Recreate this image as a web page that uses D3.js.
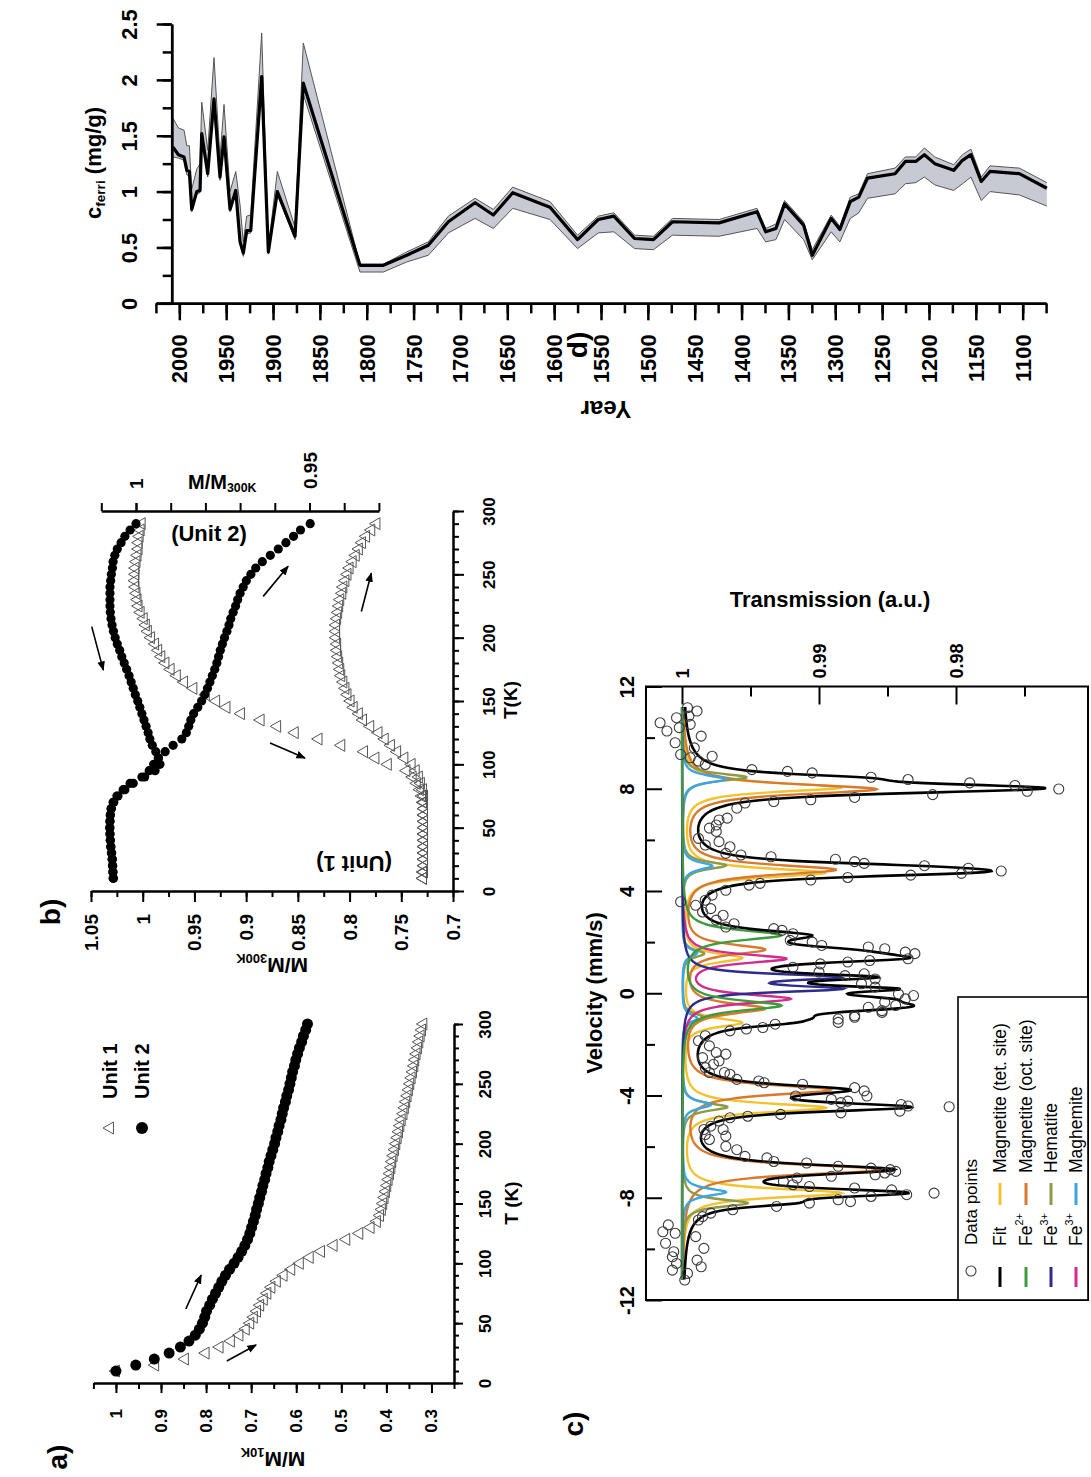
<!DOCTYPE html>
<html>
<head>
<meta charset="utf-8">
<script src="https://cdn.jsdelivr.net/npm/d3@7"></script>
<style>
  body { margin: 0; background: #fff; }
  svg { display: block; }
  text { font-family: "Liberation Sans", Arial, Helvetica, sans-serif; }
</style>
</head>
<body>
<svg id="fig" width="1091" height="1477"></svg>
<script>
// ---------------- Panel a: M/M10K during warming ----------------
const tempA = [10,15,20,25,30,35,40,45,50,55,60,65,70,75,80,85,90,95,100,105,110,115,120,125,130,135,140,145,150,155,160,165,170,175,180,185,190,195,200,205,210,215,220,225,230,235,240,245,250,255,260,265,270,275,280,285,290,295,300];
const unit1A = [1.000,0.913,0.847,0.801,0.770,0.745,0.726,0.712,0.702,0.694,0.687,0.680,0.672,0.664,0.655,0.643,0.628,0.611,0.592,0.570,0.545,0.517,0.489,0.460,0.435,0.421,0.414,0.410,0.407,0.404,0.401,0.398,0.395,0.392,0.389,0.387,0.384,0.381,0.378,0.375,0.372,0.369,0.366,0.362,0.359,0.356,0.353,0.350,0.347,0.344,0.341,0.338,0.336,0.333,0.330,0.327,0.324,0.321,0.318];
const unit2A = [1.000,0.956,0.915,0.882,0.857,0.838,0.824,0.815,0.808,0.803,0.799,0.792,0.786,0.779,0.772,0.765,0.757,0.748,0.738,0.729,0.721,0.714,0.708,0.703,0.699,0.695,0.691,0.688,0.684,0.681,0.677,0.674,0.670,0.667,0.663,0.660,0.656,0.652,0.648,0.645,0.641,0.638,0.634,0.631,0.628,0.624,0.621,0.617,0.614,0.611,0.608,0.604,0.601,0.597,0.593,0.588,0.584,0.579,0.575];
const mTicksA = [1.05,1,0.95,0.9,0.85,0.8,0.75,0.7,0.65,0.6,0.55,0.5,0.45,0.4,0.35,0.3,0.25];
const mMajorA = [1,0.9,0.8,0.7,0.6,0.5,0.4,0.3];
const mLabelsA = ["1","0.9","0.8","0.7","0.6","0.5","0.4","0.3"];
const tTicks = [0,10,20,30,40,50,60,70,80,90,100,110,120,130,140,150,160,170,180,190,200,210,220,230,240,250,260,270,280,290,300];
const tMajor = [0,50,100,150,200,250,300];
const tLabels = ["0","50","100","150","200","250","300"];
// arrows as [M, T] start and end
const arrowsA = [[[0.754,18.4],[0.689,31.8]], [[0.845,61.8],[0.811,90.2]]];

// ---------------- Panel b: M/M300K cooling / warming ----------------
const tempB = [10,15,20,25,30,35,40,45,50,55,60,65,70,75,80,85,90,95,100,105,110,115,120,125,130,135,140,145,150,155,160,165,170,175,180,185,190,195,200,205,210,215,220,225,230,235,240,245,250,255,260,265,270,275,280,285,290];
const unit1Cool = [0.729,0.729,0.728,0.728,0.728,0.728,0.728,0.728,0.728,0.728,0.728,0.728,0.729,0.730,0.732,0.735,0.739,0.745,0.763,0.775,0.786,0.808,0.830,0.853,0.870,0.886,0.905,0.919,0.929,0.939,0.951,0.960,0.967,0.973,0.978,0.982,0.985,0.988,0.992,0.995,0.997,0.999,1.002,1.004,1.005,1.006,1.007,1.0075,1.007,1.007,1.006,1.005,1.004,1.004,1.003,1.002,1.001];
const unit1Warm = [0.729,0.728,0.728,0.728,0.728,0.728,0.728,0.728,0.728,0.728,0.728,0.728,0.728,0.728,0.729,0.731,0.733,0.736,0.740,0.747,0.754,0.760,0.766,0.772,0.780,0.787,0.791,0.796,0.799,0.802,0.804,0.806,0.808,0.809,0.810,0.811,0.812,0.812,0.813,0.813,0.813,0.812,0.811,0.810,0.809,0.807,0.806,0.804,0.802,0.800,0.797,0.794,0.791,0.788,0.784,0.779,0.774];
const unit2Cool = [1.0066,1.0067,1.0068,1.0069,1.0071,1.0073,1.0074,1.0075,1.0076,1.0075,1.0074,1.0071,1.0064,1.0052,1.0032,1.0008,0.9975,0.9945,0.9931,0.9936,0.9943,0.9953,0.9960,0.9965,0.9971,0.9977,0.9983,0.9989,0.9995,1.0002,1.0008,1.0014,1.0020,1.0027,1.0034,1.0041,1.0047,1.0054,1.0060,1.0065,1.0069,1.0072,1.0074,1.0075,1.0075,1.0075,1.0075,1.0073,1.0071,1.0068,1.0066,1.0061,1.0054,1.0043,1.0032,1.0017,1.0000];
const unit2Warm = [1.0065,1.0066,1.0067,1.0068,1.0070,1.0072,1.0074,1.0075,1.0075,1.0075,1.0074,1.0072,1.0066,1.0055,1.0037,1.0017,0.9983,0.9962,0.9949,0.9935,0.9916,0.9893,0.9868,0.9855,0.9848,0.9842,0.9834,0.9822,0.9811,0.9802,0.9794,0.9787,0.9780,0.9773,0.9767,0.9762,0.9757,0.9751,0.9745,0.9738,0.9732,0.9727,0.9720,0.9713,0.9707,0.9700,0.9691,0.9682,0.9669,0.9655,0.9636,0.9613,0.9590,0.9568,0.9546,0.9526,0.9498];
const mTicksB = [1.05,1.025,1,0.975,0.95,0.925,0.9,0.875,0.85,0.825,0.8,0.775,0.75,0.725,0.7];
const mMajorB = [1.05,1,0.95,0.9,0.85,0.8,0.75,0.7];
const mLabelsB = ["1.05","1","0.95","0.9","0.85","0.8","0.75","0.7"];
const m2Ticks = [1.01,1,0.99,0.98,0.97,0.96,0.95,0.94,0.93];
const m2Major = [1,0.95];
const m2Labels = ["1","0.95"];
// arrows as [M(unit 1 axis), T]
const arrowsB = [[[1.0493,208.7],[1.0381,174.4]], [[0.8835,232.6],[0.8594,256.3]], [[0.8769,116.8],[0.8431,105.0]], [[0.7886,220.6],[0.7790,250.9]]];

// ---------------- Panel c: Mössbauer spectrum ----------------
const mossVel = [11.17,11.04,10.58,10.78,10.84,10.26,10.39,10.52,9.80,10.06,9.60,9.34,9.27,9.08,8.95,9.21,8.75,8.68,8.62,8.45,8.36,8.23,8.13,7.90,7.99,7.77,7.66,7.57,7.50,7.44,7.24,6.85,6.78,6.58,6.46,6.06,6.33,5.80,5.93,5.73,5.47,5.41,5.34,5.24,5.15,5.08,4.99,4.89,4.78,4.69,4.62,4.53,4.43,4.30,4.23,4.03,3.84,3.64,3.58,3.44,3.31,3.18,3.05,2.86,2.72,2.59,2.53,2.46,2.33,2.07,2.00,1.87,1.81,1.74,1.61,1.55,1.35,1.28,1.22,1.15,1.02,0.83,0.69,0.76,0.56,0.37,0.24,-0.03,-0.09,-0.22,-0.35,-0.55,-0.75,-0.88,-1.01,
  -0.48,-0.68,-0.94,-1.14,-1.21,-1.34,-1.40,-1.47,-1.66,-1.86,-2.06,-2.32,-2.38,-2.52,-2.65,-2.78,-2.91,-3.10,-3.10,-3.17,-3.37,-3.43,-3.50,-3.56,-4.02,-3.69,-3.82,-4.02,-4.15,-4.28,-4.22,-4.35,-4.41,-4.44,-4.61,-4.68,-4.74,-4.81,-4.87,-5.00,-5.20,-5.33,-5.53,-5.33,-5.59,-5.72,-5.99,-6.12,-6.38,-6.44,-6.58,-6.64,-6.77,-6.84,-6.90,-6.97,-7.03,-7.10,-7.16,-7.23,-7.36,-7.49,-7.56,-7.62,-7.69,-7.88,-7.82,-7.95,-8.08,-8.15,-8.21,-8.34,-8.47,-8.60,-8.74,-8.87,-9.06,-9.33,-9.39,-9.78,-10.11,-10.31,-10.57,-10.83,-10.96,-11.22,-9.52,-9.98,-10.44,-10.70];
const mossTrans = [0.9996,0.9989,1.0016,1.0004,0.9995,1.0011,1.0002,0.9994,1.0005,0.9986,0.9991,1.0001,0.9978,0.9988,0.9983,0.9994,0.9949,0.9923,0.9905,0.9862,0.9835,0.9790,0.9757,0.9748,0.9725,0.9817,0.9874,0.9906,0.9933,0.9954,0.9960,0.9967,0.9973,0.9975,0.9980,0.9988,0.9975,0.9983,0.9973,0.9965,0.9968,0.9957,0.9935,0.9888,0.9874,0.9867,0.9823,0.9791,0.9767,0.9796,0.9833,0.9879,0.9906,0.9943,0.9951,0.9968,0.9978,0.9983,1.0001,0.9990,0.9979,0.9985,0.9970,0.9975,0.9962,0.9968,0.9933,0.9927,0.9919,0.9921,0.9905,0.9898,0.9864,0.9852,0.9837,0.9830,0.9835,0.9863,0.9879,0.9899,0.9919,0.9900,0.9881,0.9867,0.9859,0.9869,0.9859,0.9842,0.9831,0.9837,0.9852,0.9864,0.9854,0.9874,0.9886,
  0.9844,0.9854,0.9874,0.9886,0.9932,0.9941,0.9953,0.9965,0.9983,0.9988,0.9980,0.9975,0.9968,0.9985,0.9973,0.9977,0.9983,0.9980,0.9969,0.9965,0.9960,0.9944,0.9940,0.9912,0.9917,0.9874,0.9867,0.9865,0.9891,0.9884,0.9879,0.9840,0.9835,0.9805,0.9841,0.9884,0.9928,0.9952,0.9965,0.9973,0.9979,0.9984,0.9983,0.9970,0.9968,0.9980,0.9968,0.9960,0.9954,0.9938,0.9933,0.9909,0.9886,0.9862,0.9848,0.9844,0.9852,0.9859,0.9891,0.9916,0.9926,0.9919,0.9907,0.9874,0.9847,0.9836,0.9816,0.9862,0.9886,0.9877,0.9907,0.9931,0.9963,0.9979,0.9985,0.9988,1.0010,1.0014,1.0005,1.0012,1.0006,1.0007,1.0004,1.0007,0.9996,0.9998,0.9990,0.9984,0.9989,0.9986];
// fitted sub-spectra: line positions (mm/s), line depths (1 - transmission), Lorentzian FWHM (mm/s)
const tetPos = [8.05,4.71,1.38,-1.15,-4.48,-7.82], tetDepth = [0.0116,0.0104,0.0043,0.0043,0.0104,0.0116], tetWidth = 0.42;
const octPos = [7.98,4.83,1.71,-0.60,-3.78,-6.90], octDepth = [0.0141,0.0111,0.0059,0.0059,0.0107,0.0145], octWidth = 0.48;
const hemPos = [8.45,5.00,1.55,-0.95,-4.45,-8.21], hemDepth = [0.0047,0.0032,0.0016,0.0016,0.0033,0.0048], hemWidth = 0.35;
const maghPos = [8.38,4.98,1.58,-0.98,-4.36,-7.78], maghDepth = [0.0032,0.0022,0.0011,0.0011,0.0021,0.0032], maghWidth = 0.35;
const fe2Pos = [2.27,-0.48], fe2Depth = [0.0072,0.0072], fe2Width = 0.48;
const fe3aPos = [0.63,0.17], fe3aDepth = [0.0106,0.0108], fe3aWidth = 0.30;
const fe3bPos = [1.35,-0.22], fe3bDepth = [0.0075,0.0078], fe3bWidth = 0.42;
const velTicks = [-10,-6,-2,2,6,10];
const velMajor = [-12,-8,-4,0,4,8,12];
const velLabels = ["-12","-8","-4","0","4","8","12"];
const transTicks = [0.995,0.985,0.975];
const transMajor = [1,0.99,0.98];
const transLabels = ["1","0.99","0.98"];

// ---------------- Panel d: ferrimagnetic concentration record ----------------
const years = [2007,2001,1995,1992,1989.3,1986.8,1981.4,1977.9,1976.1,1969.7,1963,1956.6,1952.3,1945.9,1939.8,1935.2,1931.7,1928.1,1923.8,1912.1,1905,1895.4,1876.5,1867.7,1807.2,1782.3,1757.3,1734.3,1712.9,1684.4,1664.9,1644.2,1604.4,1575,1552.9,1536.3,1514.2,1494,1473.7,1424,1383.5,1374.2,1363.3,1354.1,1333.8,1324.5,1304.3,1295.1,1284,1274.9,1265.6,1236.2,1225.2,1214.1,1204.9,1193.8,1173.6,1164.3,1155.2,1144.2,1134.9,1103.6,1074.2];
const cferri = [1.40,1.33,1.31,1.19,1.18,0.84,1.00,1.01,1.52,1.16,1.83,1.13,1.49,0.84,1.01,0.55,0.45,0.65,0.65,2.03,0.46,1.00,0.60,1.97,0.34,0.34,0.43,0.52,0.73,0.90,0.79,0.99,0.86,0.57,0.75,0.78,0.58,0.57,0.73,0.72,0.82,0.64,0.67,0.89,0.70,0.43,0.76,0.66,0.91,0.95,1.12,1.16,1.27,1.27,1.33,1.25,1.19,1.28,1.33,1.09,1.18,1.16,1.03];
const cferriLow = [1.31,1.30,1.28,1.15,1.14,0.82,0.98,0.99,1.48,1.13,1.80,1.10,1.45,0.82,0.98,0.53,0.42,0.62,0.63,1.97,0.44,0.97,0.57,1.87,0.28,0.28,0.37,0.43,0.63,0.76,0.67,0.85,0.75,0.49,0.63,0.64,0.49,0.48,0.61,0.60,0.67,0.55,0.57,0.75,0.57,0.39,0.64,0.55,0.76,0.81,0.94,0.98,1.07,1.08,1.13,1.06,1.01,1.07,1.13,0.92,1.00,0.97,0.87];
const cferriHigh = [1.66,1.57,1.55,1.41,1.41,1.02,1.20,1.25,1.80,1.37,2.20,1.30,1.78,1.00,1.18,0.88,0.55,0.78,0.79,2.42,0.50,1.18,0.68,2.33,0.35,0.35,0.46,0.55,0.78,0.94,0.84,1.04,0.91,0.61,0.78,0.81,0.61,0.60,0.76,0.75,0.85,0.67,0.71,0.92,0.73,0.48,0.79,0.69,0.95,0.98,1.16,1.21,1.31,1.31,1.39,1.31,1.24,1.33,1.38,1.13,1.23,1.21,1.08];
const yearTicks = [2025,2000,1975,1950,1925,1900,1875,1850,1825,1800,1775,1750,1725,1700,1675,1650,1625,1600,1575,1550,1525,1500,1475,1450,1425,1400,1375,1350,1325,1300,1275,1250,1225,1200,1175,1150,1125,1100,1075];
const yearMajor = [2000,1950,1900,1850,1800,1750,1700,1650,1600,1550,1500,1450,1400,1350,1300,1250,1200,1150,1100];
const yearLabels = ["2000","1950","1900","1850","1800","1750","1700","1650","1600","1550","1500","1450","1400","1350","1300","1250","1200","1150","1100"];
const cTicks = [0,0.25,0.5,0.75,1,1.25,1.5,1.75,2,2.25,2.5];
const cMajor = [0,0.5,1,1.5,2,2.5];
const cLabels = ["0","0.5","1","1.5","2","2.5"];

// ================= drawing =================
const svg = d3.select("#fig");
svg.append("rect").attr("width", 1091).attr("height", 1477).attr("fill", "#fff");
svg.append("defs").append("marker")
  .attr("id", "arrowhead").attr("viewBox", "0 0 10 10")
  .attr("refX", 9).attr("refY", 5).attr("markerWidth", 6).attr("markerHeight", 6)
  .attr("orient", "auto")
  .append("path").attr("d", "M0,1 L10,5 L0,9 Z").attr("fill", "#000");

function addAxis(x, y, gen, sw, keepDomain = true) {
  const g = svg.append("g").attr("transform", `translate(${x},${y})`).call(gen);
  g.select(".domain").attr("stroke", keepDomain ? "#000" : "none").attr("stroke-width", sw);
  g.selectAll(".tick line").attr("stroke", "#000").attr("stroke-width", sw);
  g.selectAll(".tick text").remove();
  return g;
}
function tickLabels(g, labels, dx, dy, rot, anchor, size) {
  g.selectAll(".tick").append("text")
    .attr("transform", `translate(${dx},${dy}) rotate(${rot})`)
    .attr("text-anchor", anchor).attr("dominant-baseline", "central")
    .attr("font-size", size).attr("font-weight", "bold").attr("fill", "#000")
    .text((d, i) => labels[i]);
}
function richText(x, y, parts, o) {
  const t = svg.append("text")
    .attr("transform", `translate(${x},${y}) rotate(${o.rot || 0})`)
    .attr("text-anchor", o.anchor || "middle")
    .attr("dominant-baseline", o.base || "central")
    .attr("font-size", o.size).attr("font-weight", o.weight || "bold").attr("fill", "#000");
  let shift = 0;
  parts.forEach(p => {
    const ts = t.append("tspan").text(p.t);
    const target = p.sub ? o.size * 0.32 : p.sup ? -o.size * 0.42 : 0;
    if (p.sub || p.sup) ts.attr("font-size", o.size * 0.62);
    if (target !== shift) { ts.attr("dy", target - shift); shift = target; }
  });
  return t;
}
const triPath = s => `M${-s * 0.577},0L${s * 0.289},${-s / 2}L${s * 0.289},${s / 2}Z`;

// ----- panel a -----
const xA = d3.scaleLinear().domain([1.05, 0.25]).range([93.4, 454]);
const yA = d3.scaleLinear().domain([0, 300]).range([1383, 1024]);
addAxis(0, 1383, d3.axisBottom(xA).tickValues(mTicksA).tickSize(6).tickSizeOuter(0), 2);
const gAx = addAxis(0, 1383, d3.axisBottom(xA).tickValues(mMajorA).tickSize(10).tickSizeOuter(0), 2);
tickLabels(gAx, mLabelsA, 0, 26, -90, "end", 17);
addAxis(454, 0, d3.axisRight(yA).tickValues(tTicks).tickSize(5).tickSizeOuter(0), 2);
const gAy = addAxis(454, 0, d3.axisRight(yA).tickValues(tMajor).tickSize(9).tickSizeOuter(0), 2);
tickLabels(gAy, tLabels, 31, 0, -90, "middle", 17);

const gA = svg.append("g");
gA.selectAll("path.u1").data(tempA).join("path")
  .attr("d", triPath(12))
  .attr("transform", (t, i) => `translate(${xA(unit1A[i])},${yA(t)})`)
  .attr("fill", "none").attr("stroke", "#555").attr("stroke-width", 1);
gA.selectAll("circle").data(tempA).join("circle")
  .attr("cx", (t, i) => xA(unit2A[i])).attr("cy", t => yA(t)).attr("r", 5.5).attr("fill", "#000");
arrowsA.forEach(a => svg.append("line")
  .attr("x1", xA(a[0][0])).attr("y1", yA(a[0][1])).attr("x2", xA(a[1][0])).attr("y2", yA(a[1][1]))
  .attr("stroke", "#000").attr("stroke-width", 1.6).attr("marker-end", "url(#arrowhead)"));
// legend
svg.append("path").attr("d", triPath(12)).attr("transform", "translate(110,1128)")
  .attr("fill", "none").attr("stroke", "#555").attr("stroke-width", 1);
svg.append("circle").attr("cx", 142).attr("cy", 1128).attr("r", 6).attr("fill", "#000");
richText(110, 1099, [{t: "Unit 1"}], {rot: -90, anchor: "start", size: 20});
richText(142, 1099, [{t: "Unit 2"}], {rot: -90, anchor: "start", size: 20});
richText(511, 1203, [{t: "T (K)"}], {rot: -90, size: 19});
richText(273, 1460, [{t: "M/M"}, {t: "10K", sub: true}], {rot: 180, size: 21});
richText(57, 1457, [{t: "a)"}], {rot: -90, size: 28});

// ----- panel b -----
const xB = d3.scaleLinear().domain([1.05, 0.7]).range([91, 453]);
const xB2 = d3.scaleLinear().domain([1.01, 0.93]).range([101.3, 378.9]);
const yB = d3.scaleLinear().domain([0, 300]).range([891, 511]);
addAxis(0, 891, d3.axisBottom(xB).tickValues(mTicksB).tickSize(6).tickSizeOuter(0), 2);
const gBx = addAxis(0, 891, d3.axisBottom(xB).tickValues(mMajorB).tickSize(11).tickSizeOuter(0), 2);
tickLabels(gBx, mLabelsB, 0, 23, -90, "end", 19);
addAxis(453, 0, d3.axisRight(yB).tickValues(tTicks).tickSize(6).tickSizeOuter(0), 2);
const gBy = addAxis(453, 0, d3.axisRight(yB).tickValues(tMajor).tickSize(11).tickSizeOuter(0), 2);
tickLabels(gBy, tLabels, 36, 0, -90, "middle", 17);
addAxis(0, 511, d3.axisTop(xB2).tickValues(m2Ticks).tickSize(8).tickSizeOuter(0), 2);
const gBt = addAxis(0, 511, d3.axisTop(xB2).tickValues(m2Major).tickSize(8).tickSizeOuter(0), 2);
tickLabels(gBt, m2Labels, 0, -22, -90, "start", 19);

const gB = svg.append("g");
[unit1Cool, unit1Warm].forEach(series => {
  gB.append("g").selectAll("path").data(tempB).join("path")
    .attr("d", triPath(12))
    .attr("transform", (t, i) => `translate(${xB(series[i])},${yB(t)})`)
    .attr("fill", "none").attr("stroke", "#555").attr("stroke-width", 1);
});
[unit2Cool, unit2Warm].forEach(series => {
  gB.append("g").selectAll("circle").data(tempB).join("circle")
    .attr("cx", (t, i) => xB2(series[i])).attr("cy", t => yB(t)).attr("r", 4.6).attr("fill", "#000");
});
arrowsB.forEach(a => svg.append("line")
  .attr("x1", xB(a[0][0])).attr("y1", yB(a[0][1])).attr("x2", xB(a[1][0])).attr("y2", yB(a[1][1]))
  .attr("stroke", "#000").attr("stroke-width", 1.6).attr("marker-end", "url(#arrowhead)"));
richText(510, 700, [{t: "T(K)"}], {rot: -90, size: 19});
richText(272, 966, [{t: "M/M"}, {t: "300K", sub: true}], {rot: 180, size: 21});
richText(188, 482, [{t: "M/M"}, {t: "300K", sub: true}], {anchor: "start", size: 20});
richText(209, 533, [{t: "(Unit 2)"}], {size: 22});
richText(354, 864, [{t: "(Unit 1)"}], {rot: 180, size: 22});
richText(50, 912, [{t: "b)"}], {rot: -90, size: 28});

// ----- panel c -----
const xC = d3.scaleLinear().domain([1, 0.98]).range([682, 956]);
const yC = d3.scaleLinear().domain([-12, 12]).range([1300, 686.5]);
const boxC = {x0: 646, x1: 1088};
addAxis(boxC.x0, 0, d3.axisLeft(yC).tickValues(velTicks).tickSize(-9).tickSizeOuter(0), 2, false);
const gCv2 = addAxis(boxC.x0, 0, d3.axisLeft(yC).tickValues(velMajor).tickSize(-16).tickSizeOuter(0), 2, false);
tickLabels(gCv2, velLabels, -19, 0, -90, "middle", 20);
addAxis(0, yC(12), d3.axisTop(xC).tickValues(transTicks).tickSize(-10).tickSizeOuter(0), 2, false);
const gCt = addAxis(0, yC(12), d3.axisTop(xC).tickValues(transMajor).tickSize(-18).tickSizeOuter(0), 2, false);
tickLabels(gCt, transLabels, 0, -8, -90, "start", 18);

// Lorentzian absorption of one sub-spectrum at velocity v
function absorption(v, pos, dep, width) {
  let s = 0;
  for (let i = 0; i < pos.length; i++) {
    const z = (v - pos[i]) / (width / 2);
    s += dep[i] / (1 + z * z);
  }
  return s;
}
const components = [
  {pos: tetPos, dep: tetDepth, w: tetWidth, color: "#f2c230"},
  {pos: octPos, dep: octDepth, w: octWidth, color: "#d9792e"},
  {pos: hemPos, dep: hemDepth, w: hemWidth, color: "#8e9a46"},
  {pos: maghPos, dep: maghDepth, w: maghWidth, color: "#3ca5e4"},
  {pos: fe3bPos, dep: fe3bDepth, w: fe3bWidth, color: "#d12b8c"},
  {pos: fe3aPos, dep: fe3aDepth, w: fe3aWidth, color: "#2d2b8c"},
  {pos: fe2Pos, dep: fe2Depth, w: fe2Width, color: "#3d9b3d"}
];
const velGrid = d3.range(-11.2, 11.2001, 0.02);
const lineC = d3.line().x(d => xC(d[1])).y(d => yC(d[0]));
components.forEach(c => {
  svg.append("path")
    .datum(velGrid.map(v => [v, 1 - absorption(v, c.pos, c.dep, c.w)]))
    .attr("d", lineC).attr("fill", "none").attr("stroke", c.color).attr("stroke-width", 2.4);
});
svg.append("path")
  .datum(velGrid.map(v => [v, 1 - d3.sum(components, c => absorption(v, c.pos, c.dep, c.w))]))
  .attr("d", lineC).attr("fill", "none").attr("stroke", "#000").attr("stroke-width", 2.6);
svg.append("g").selectAll("circle").data(mossVel).join("circle")
  .attr("cx", (v, i) => xC(mossTrans[i])).attr("cy", v => yC(v)).attr("r", 5)
  .attr("fill", "none").attr("stroke", "#3a3a3a").attr("stroke-width", 1.1);
svg.append("rect").attr("x", boxC.x0).attr("y", yC(12)).attr("width", boxC.x1 - boxC.x0).attr("height", yC(-12) - yC(12))
  .attr("fill", "none").attr("stroke", "#000").attr("stroke-width", 2);
// legend
svg.append("rect").attr("x", 958).attr("y", 997).attr("width", boxC.x1 - 958).attr("height", yC(-12) - 997)
  .attr("fill", "#fff").attr("stroke", "#000").attr("stroke-width", 1.6);
const legRows = [971, 1000, 1026, 1051, 1076];
svg.append("circle").attr("cx", legRows[0]).attr("cy", 1271).attr("r", 5)
  .attr("fill", "none").attr("stroke", "#3a3a3a").attr("stroke-width", 1.1);
richText(legRows[0], 1245, [{t: "Data points"}], {rot: -90, anchor: "start", size: 17, weight: "normal"});
const legLeft = [
  {color: "#000", parts: [{t: "Fit"}]},
  {color: "#3d9b3d", parts: [{t: "Fe"}, {t: "2+", sup: true}]},
  {color: "#2d2b8c", parts: [{t: "Fe"}, {t: "3+", sup: true}]},
  {color: "#d12b8c", parts: [{t: "Fe"}, {t: "3+", sup: true}]}
];
const legRight = [
  {color: "#f2c230", parts: [{t: "Magnetite (tet. site)"}]},
  {color: "#d9792e", parts: [{t: "Magnetite (oct. site)"}]},
  {color: "#8e9a46", parts: [{t: "Hematite"}]},
  {color: "#3ca5e4", parts: [{t: "Maghemite"}]}
];
legLeft.forEach((e, i) => {
  const x = legRows[i + 1];
  svg.append("line").attr("x1", x).attr("x2", x).attr("y1", 1267).attr("y2", 1287)
    .attr("stroke", e.color).attr("stroke-width", 3);
  richText(x, 1246, e.parts, {rot: -90, anchor: "start", size: 17.5, weight: "normal"});
});
legRight.forEach((e, i) => {
  const x = legRows[i + 1];
  svg.append("line").attr("x1", x).attr("x2", x).attr("y1", 1183).attr("y2", 1205)
    .attr("stroke", e.color).attr("stroke-width", 3);
  richText(x, 1173, e.parts, {rot: -90, anchor: "start", size: 17.5, weight: "normal"});
});
richText(594, 993, [{t: "Velocity (mm/s)"}], {rot: -90, size: 22});
richText(830, 599, [{t: "Transmission (a.u.)"}], {size: 22});
richText(573, 1424, [{t: "c)"}], {rot: -90, size: 28});

// ----- panel d -----
const xD = d3.scaleLinear().domain([2025, 1075]).range([155.9, 1046.1]);
const yD = d3.scaleLinear().domain([0, 2.5]).range([303.3, 24]);
const rows = years.map((y, i) => ({y, v: cferri[i], lo: cferriLow[i], hi: cferriHigh[i]}));
svg.append("path").datum(rows)
  .attr("d", d3.area().x(d => xD(d.y)).y0(d => yD(d.lo)).y1(d => yD(d.hi)))
  .attr("fill", "#c7cad2").attr("stroke", "none");
["lo", "hi"].forEach(k => svg.append("path").datum(rows)
  .attr("d", d3.line().x(d => xD(d.y)).y(d => yD(d[k])))
  .attr("fill", "none").attr("stroke", "#555").attr("stroke-width", 1));
svg.append("path").datum(rows)
  .attr("d", d3.line().x(d => xD(d.y)).y(d => yD(d.v)))
  .attr("fill", "none").attr("stroke", "#000").attr("stroke-width", 3.2).attr("stroke-linejoin", "round");
addAxis(0, 303.3, d3.axisBottom(xD).tickValues(yearTicks).tickSize(10).tickSizeOuter(0), 2.5);
const gDx = addAxis(0, 303.3, d3.axisBottom(xD).tickValues(yearMajor).tickSize(17).tickSizeOuter(0), 2.5);
tickLabels(gDx, yearLabels, 0, 31, -90, "end", 22);
addAxis(171.7, 0, d3.axisLeft(yD).tickValues(cTicks).tickSize(9).tickSizeOuter(0), 2.5);
const gDy = addAxis(171.7, 0, d3.axisLeft(yD).tickValues(cMajor).tickSize(15).tickSizeOuter(0), 2.5);
tickLabels(gDy, cLabels, -42, 0, -90, "middle", 22);
richText(93, 163, [{t: "c"}, {t: "ferri", sub: true}, {t: " (mg/g)"}], {rot: -90, size: 22});
richText(606, 410, [{t: "Year"}], {rot: 180, size: 24});
richText(577, 345, [{t: "d)"}], {rot: -90, size: 28});
</script>
</body>
</html>
